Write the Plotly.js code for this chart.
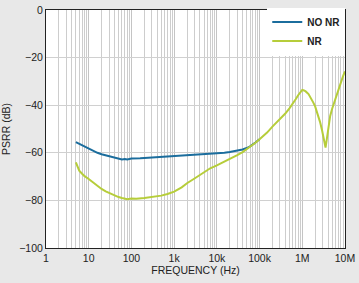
<!DOCTYPE html>
<html><head><meta charset="utf-8">
<script src="https://cdn.plot.ly/plotly-3.0.1.min.js"></script>
<style>html,body{margin:0;padding:0;background:#e8e8e8;}</style>
</head><body><div id="chart" style="width:359px;height:283px;"></div>
<script>
var noNrFreq = [5,6,7,8,10,13,16,20,25,30,40,50,60,70,80,100,130,160,200,300,500,700,1000,1500,2000,3000,5000,7000,10000,15000,20000,30000,40000,50000,60000,80000,100000];
var noNrDb   = [-55.5,-56.2,-56.8,-57.5,-58.5,-59.3,-60.0,-60.6,-61.0,-61.5,-62.0,-62.4,-62.8,-62.6,-62.8,-62.4,-62.5,-62.3,-62.2,-62.0,-61.8,-61.6,-61.5,-61.3,-61.1,-61.0,-60.8,-60.6,-60.3,-60.0,-59.7,-59.2,-58.6,-58.0,-57.3,-55.7,-54.3];
var nrFreq = [5,5.5,6,7,8,10,12,15,20,25,30,40,50,60,70,80,100,130,200,300,500,700,1000,1500,2000,3000,5000,7000,10000,15000,20000,30000,40000,60000,80000,100000,150000,200000,300000,400000,500000,600000,700000,800000,900000,1000000,1100000,1200000,1400000,1600000,1800000,2000000,2300000,2600000,2900000,3200000,3500000,3700000,4000000,4500000,5000000,6000000,7000000,8000000,9000000,10000000];
var nrDb   = [-64,-66,-67.5,-68.8,-69.8,-71.0,-72.2,-73.6,-75.2,-76.2,-76.9,-77.9,-78.6,-79.0,-79.3,-79.5,-79.2,-79.3,-79.0,-78.6,-78.0,-77.3,-76.3,-74.5,-72.8,-70.8,-68.2,-66.5,-65.3,-63.8,-62.8,-61.0,-59.7,-57.6,-55.8,-54.3,-51.5,-49.0,-46.0,-43.5,-41.3,-39.5,-37.5,-35.8,-34.5,-33.6,-33.8,-34.2,-35.3,-37.0,-38.8,-40.5,-43.5,-47,-50.5,-54.5,-57.8,-55,-50,-44.5,-41.5,-37,-33.5,-30.3,-27.8,-25.8];
var xTickVals = [1,10,100,1000,10000,100000,1000000,10000000];
var xTickText = ['1','10','100','1k','10k','100k','1M','10M'];
var yTickVals = [0,-20,-40,-60,-80,-100];

var traces = [
  {x: noNrFreq, y: noNrDb, name: 'NO NR', mode: 'lines', line: {color: '#1b6d9d', width: 2}},
  {x: nrFreq, y: nrDb, name: 'NR', mode: 'lines', line: {color: '#b6cd3a', width: 2}}
];
var layout = {
  width: 359, height: 283,
  margin: {l: 46, r: 14, t: 8, b: 35},
  paper_bgcolor: '#e8e8e8', plot_bgcolor: '#ffffff',
  font: {family: 'Liberation Sans, Arial, sans-serif', size: 10, color: '#222'},
  showlegend: true,
  legend: {x: 0.74, y: 1.01, xanchor: 'left', yanchor: 'top', bgcolor: '#ffffff',
           font: {size: 10, weight: 'bold', color: '#222'}, itemwidth: 30, tracegroupgap: 0},
  xaxis: {type: 'log', range: [0, 7], tickvals: xTickVals, ticktext: xTickText,
          showgrid: true, gridcolor: '#c4c4c4', gridwidth: 1,
          minor: {dtick: 'D1', showgrid: true, gridcolor: '#cdcdcd', gridwidth: 1, ticklen: 0},
          showline: true, linecolor: '#222', linewidth: 1, mirror: true, ticks: '', zeroline: false,
          tickfont: {size: 10.5, color: '#222'},
          title: {text: 'FREQUENCY (Hz)', font: {size: 10.5, color: '#222'}, standoff: 4}},
  yaxis: {range: [-100, 0], tickvals: yTickVals, showgrid: true, gridcolor: '#d0d0d0',
          showline: true, linecolor: '#222', linewidth: 1, mirror: true, ticks: '', zeroline: false,
          tickfont: {size: 10.5, color: '#222'},
          title: {text: 'PSRR (dB)', font: {size: 10.5, color: '#222'}, standoff: 6}}
};
Plotly.newPlot('chart', traces, layout, {displayModeBar: false, staticPlot: true});
</script></body></html>
